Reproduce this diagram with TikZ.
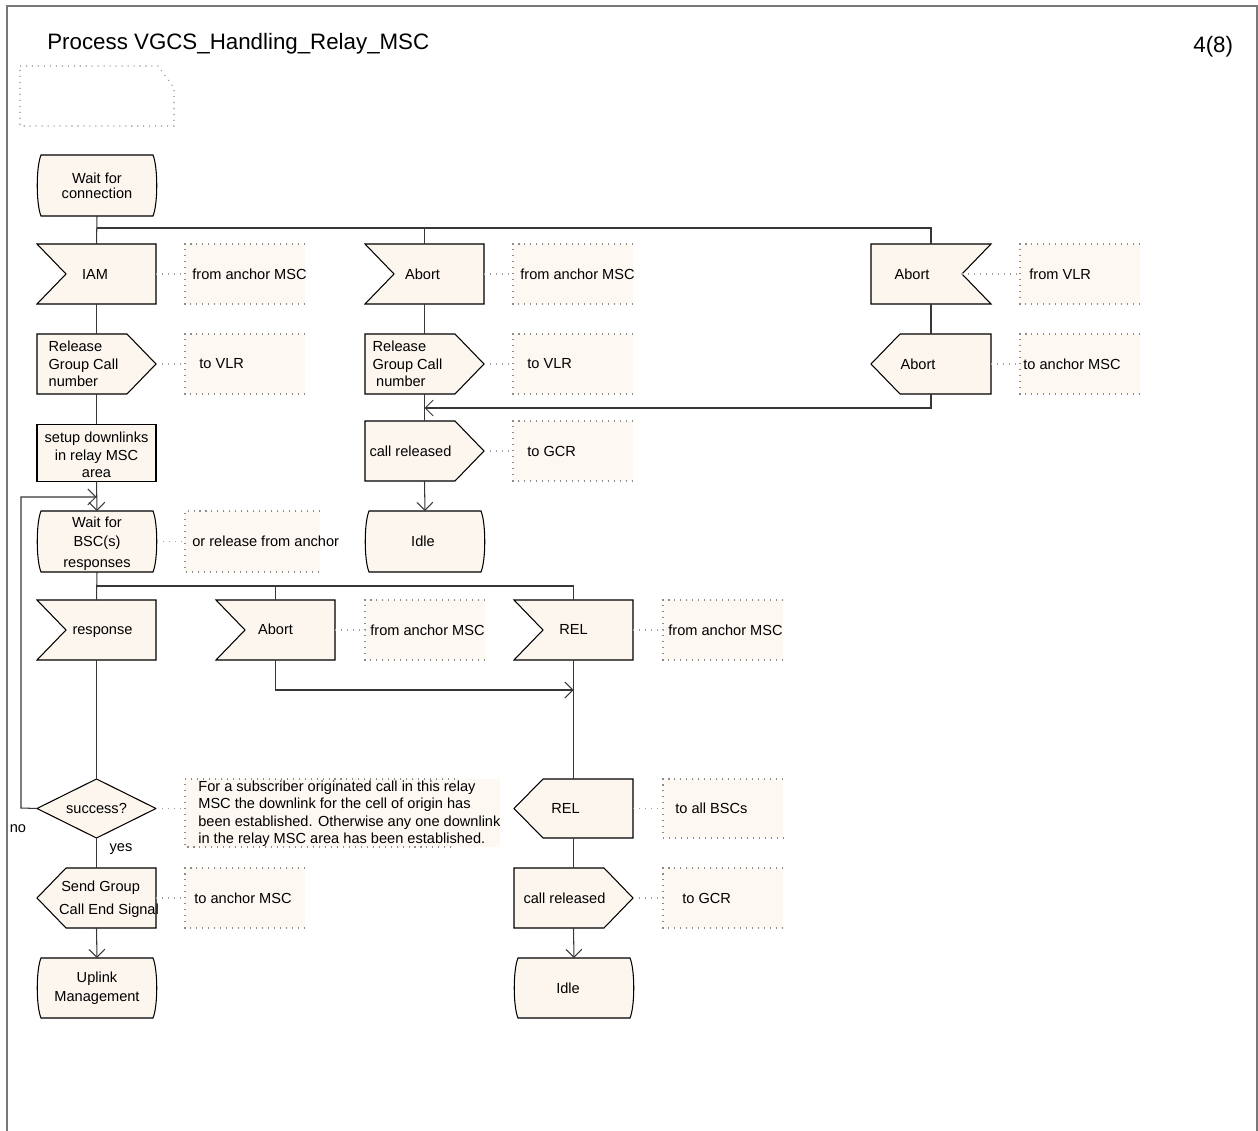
\documentclass[tikz,border=0pt]{standalone}
\usepackage{fontspec}
\setmainfont{Liberation Sans}
\usetikzlibrary{calc,arrows.meta}
\definecolor{symfill}{RGB}{252,246,239}
\definecolor{cmtfill}{RGB}{253,248,242}
\definecolor{linegray}{RGB}{55,55,55}
\definecolor{dotgray}{RGB}{140,140,140}
\definecolor{linkgray}{RGB}{160,160,160}
\definecolor{framegray}{RGB}{120,120,120}
\tikzset{
 box/.style={draw=none, inner sep=0pt, outer sep=0pt},
 shp/.style={draw=black, fill=symfill, line width=0.6pt, line join=miter},
 lbl/.style={font=\fontsize{8.3}{10}\selectfont, inner sep=0pt, align=center},
 conn/.style={draw=linegray, line width=0.6pt},
 arr/.style={conn, -{Straight Barb[length=4.5pt,width=9pt]}},
 dots/.style={draw=dotgray, line width=0.6pt, dash pattern=on 0.6pt off 2.8pt},
 linkdots/.style={draw=linkgray, line width=0.6pt, dash pattern=on 0.6pt off 2.8pt},
}
% invisible box node: name x0 y0 x1 y1 (pixel units)
\newcommand{\mkbox}[5]{%
 \node[box, minimum width={(#4-#2)*0.02cm}, minimum height={(#5-#3)*0.02cm}] (#1) at ({(#2+#4)/2},{(#3+#5)/2}) {};}
% input, notch on the left
\newcommand{\sdlInput}[7]{%
 \mkbox{#1}{#2}{#3}{#4}{#5}
 \path[shp] (#1.north west) -- (#1.north east) -- (#1.south east) -- (#1.south west) -- ($(#1.west)+(29,0)$) -- cycle;
 \node[lbl] (#1t) at ($(#1.center)+(#6)$) {#7};}
% input, notch on the right
\newcommand{\sdlInputR}[7]{%
 \mkbox{#1}{#2}{#3}{#4}{#5}
 \coordinate (#1c) at ($(#1.east)+(-29,0)$);
 \path[shp] (#1.north west) -- (#1.north east) -- (#1c) -- (#1.south east) -- (#1.south west) -- cycle;
 \node[lbl] (#1t) at ($(#1.center)+(#6)$) {#7};}
% output, tip on the right
\newcommand{\sdlOutput}[7]{%
 \mkbox{#1}{#2}{#3}{#4}{#5}
 \path[shp] (#1.north west) -- ($(#1.north east)+(-29,0)$) -- (#1.east) -- ($(#1.south east)+(-29,0)$) -- (#1.south west) -- cycle;
 \node[lbl, align=left] (#1t) at ($(#1.center)+(#6)$) {#7};}
% output, tip on the left
\newcommand{\sdlOutputL}[7]{%
 \mkbox{#1}{#2}{#3}{#4}{#5}
 \path[shp] (#1.west) -- ($(#1.north west)+(29,0)$) -- (#1.north east) -- (#1.south east) -- ($(#1.south west)+(29,0)$) -- cycle;
 \node[lbl, align=left] (#1t) at ($(#1.center)+(#6)$) {#7};}
% task
\newcommand{\sdlTask}[7]{%
 \mkbox{#1}{#2}{#3}{#4}{#5}
 \path[shp] (#2,#3) -- (#4,#3) -- (#4,#5) -- (#2,#5) -- cycle;
 \node[lbl] (#1t) at ($(#1.center)+(#6)$) {#7};}
% state
\newcommand{\sdlState}[7]{%
 \mkbox{#1}{#2}{#3}{#4}{#5}
 \path[shp] ($(#1.north west)+(4,0)$) -- ($(#1.north east)+(-4,0)$)
   .. controls ($(#1.north east)+(1,12)$) and ($(#1.south east)+(1,-12)$) .. ($(#1.south east)+(-4,0)$)
   -- ($(#1.south west)+(4,0)$)
   .. controls ($(#1.south west)+(-1,-12)$) and ($(#1.north west)+(-1,12)$) .. ($(#1.north west)+(4,0)$) -- cycle;
 \node[lbl] (#1t) at ($(#1.center)+(#6)$) {#7};}
% decision
\newcommand{\sdlDecision}[6]{%
 \mkbox{#1}{#2}{#3}{#4}{#5}
 \path[shp] (#1.west) -- (#1.north) -- (#1.east) -- (#1.south) -- cycle;
 \node[lbl] (#1t) at (#1.center) {#6};}
% comment: name x0 y0 x1 y1 dotted-end textx text
\newcommand{\sdlComment}[8]{%
 \mkbox{#1}{#2}{#3}{#4}{#5}
 \fill[cmtfill] (#1.north west) rectangle (#1.south east);
 \draw[dots] (#6,#3) -- (#2,#3) -- (#2,#5) -- (#6,#5);
 \node[lbl, anchor=west, align=left] (#1t) at (#7,{(#3+#5)/2}) {#8};}

\begin{document}
\begin{tikzpicture}[x=0.02cm, y=-0.02cm]
\useasboundingbox (0,0) rectangle (1258,1131);
% frame
\draw[framegray, line width=1.1pt] (7,1131) -- (7,6) -- (1257,6) -- (1257,1131);
\node[anchor=base west, inner sep=0pt, font=\fontsize{12.7}{15}\selectfont] (title) at (47,50) {Process VGCS\_Handling\_Relay\_MSC};
\node[anchor=base west, inner sep=0pt, font=\fontsize{12.7}{15}\selectfont] (page) at (1193,53) {4(8)};
\draw[dots] (20,66) -- (158,66) -- (174,88) -- (174,126) -- (20,126) -- cycle;

% ---- symbols
\sdlState{s0}{37}{155}{157}{216}{0,0}{Wait for\\[-1.5pt]connection}
\sdlInput{iam}{37}{244}{156}{304}{-1.5,0}{IAM}
\sdlOutput{rgc1}{37}{334}{156}{394}{-13,0}{Release\\Group Call\\number}
\sdlTask{setup}{37}{424.3}{156}{481.3}{0,2}{setup downlinks\\in relay MSC\\area}
\sdlState{s1}{37}{511}{157}{572}{0,2}{Wait for\\[1pt]BSC(s)\\[1.5pt]responses}

\sdlInput{ab1}{365}{244}{484}{304}{-2,0}{Abort}
\sdlOutput{rgc2}{365}{334}{484}{394}{-17,0}{Release\\Group Call\\\hspace{2pt}number}
\sdlOutput{cr1}{365}{421}{484}{481}{-14,0}{call released}
\sdlState{idle1}{365}{511}{485}{572}{-2,0}{Idle}

\sdlInputR{ab2}{871}{244}{991}{304}{-19,0}{Abort}
\sdlOutputL{ab2o}{871}{334}{991}{394}{-13,0}{Abort}

\sdlInput{resp}{37}{600}{156}{660}{6,2.5}{response}
\sdlInput{ab3}{216}{600}{335}{660}{0,-1}{Abort}
\sdlInput{rel1}{514}{600}{633}{660}{0,-1}{REL}

\sdlDecision{dec}{37}{779}{156}{838}{success?}
\sdlOutputL{sgc}{37}{868}{156}{928}{12.5,1}{\hspace{3\pgflinewidth}Send Group\\[3pt]Call End Signal}
\sdlState{up}{37}{958}{157}{1018}{0,0}{Uplink\\[1pt]Management}

\sdlOutputL{relo}{514}{779}{633}{838}{-8,0}{REL}
\sdlOutput{cr2}{514}{868}{633}{928}{-9,0}{call released}
\sdlState{idle2}{514}{958}{634}{1018}{-6,0}{Idle}

% ---- comments
\sdlComment{ciam}{185}{244}{305}{304}{305}{192}{from anchor MSC}
\sdlComment{crgc1}{185}{334}{305}{394}{305}{199}{to VLR}
\sdlComment{cab1}{513}{244}{633}{304}{633}{520}{from anchor MSC}
\sdlComment{crgc2}{513}{334}{633}{394}{633}{527}{to VLR}
\sdlComment{ccr1}{513}{421}{633}{481}{633}{527}{to GCR}
\sdlComment{cab2}{1020}{244}{1140}{304}{1140}{1029}{from VLR}
\sdlComment{cab2o}{1020}{334}{1140}{394}{1140}{1023}{to anchor MSC}
\sdlComment{cs1}{185}{511}{320}{572}{320}{192}{or release from anchor}
\sdlComment{cab3}{365}{600}{485}{660}{485}{370}{from anchor MSC}
\sdlComment{crel1}{663}{600}{783}{660}{783}{668}{from anchor MSC}
\sdlComment{cdec}{185}{779}{500}{847}{455}{198}{\rule{0pt}{0pt}\\[-3pt]\fontsize{8.3}{9.3}\selectfont For a subscriber originated call in this relay\\MSC the downlink for the cell of origin has\\been established. Otherwise any one downlink\\in the relay MSC area has been established.}
\sdlComment{csgc}{185}{868}{305}{928}{305}{194}{to anchor MSC}
\sdlComment{crelo}{663}{779}{783}{838}{783}{675}{to all BSCs}
\sdlComment{ccr2}{663}{868}{783}{928}{783}{682}{to GCR}

% ---- comment links
\draw[linkdots] (iam.east) -- (ciam.west);
\draw[linkdots] (rgc1.east) -- (crgc1.west);
\draw[linkdots] (ab1.east) -- (cab1.west);
\draw[linkdots] (rgc2.east) -- (crgc2.west);
\draw[linkdots] (cr1.east) -- (ccr1.west);
\draw[linkdots] (ab2c) -- (cab2.west);
\draw[linkdots] (ab2o.east) -- (cab2o.west);
\draw[linkdots] (s1.east) -- (cs1.west);
\draw[linkdots] (ab3.east) -- (cab3.west);
\draw[linkdots] (rel1.east) -- (crel1.west);
\draw[linkdots] (dec.east) -- (dec.east -| cdec.west);
\draw[linkdots] (sgc.east) -- (csgc.west);
\draw[linkdots] (relo.east) -- (crelo.west);
\draw[linkdots] (cr2.east) -- (ccr2.west);

% ---- flow lines
\coordinate (j1) at (96.5,228);
\draw[conn] (s0.south) -- (iam.north);
\draw[conn] (j1) -| (ab1.north);
\draw[conn] (j1) -| (ab2.north);
\draw[conn] (iam.south) -- (rgc1.north);
\draw[conn] (rgc1.south) -- (setup.north);
\draw[arr] (setup.south) -- (s1.north);

\draw[conn] (ab1.south) -- (rgc2.north);
\draw[conn] (rgc2.south) -- (cr1.north);
\coordinate (m1) at (424.5,408);
\draw[conn] (ab2.south) -- (ab2o.north);
\draw[arr] (ab2o.south) |- (m1);
\draw[arr] (cr1.south) -- (idle1.north);

\coordinate (j2) at (96.5,586);
\draw[conn] (s1.south) -- (resp.north);
\draw[conn] (j2) -| (ab3.north);
\draw[conn] (j2) -| (rel1.north);

\coordinate (m2) at (573.5,690);
\draw[arr] (ab3.south) |- (m2);
\draw[conn] (rel1.south) -- (relo.north);
\draw[conn] (relo.south) -- (cr2.north);
\draw[arr] (cr2.south) -- (idle2.north);

\draw[conn] (resp.south) -- (dec.north);
\coordinate (loopin) at (96.5,497);
\draw[arr] (dec.west) -- (21,808) |- (loopin);
\draw[conn] (dec.south) -- (sgc.north);
\draw[arr] (sgc.south) -- (up.north);

\node[lbl, anchor=base] (no) at (18,832) {no};
\node[lbl, anchor=base] (yes) at (121,851) {yes};
\end{tikzpicture}
\end{document}
